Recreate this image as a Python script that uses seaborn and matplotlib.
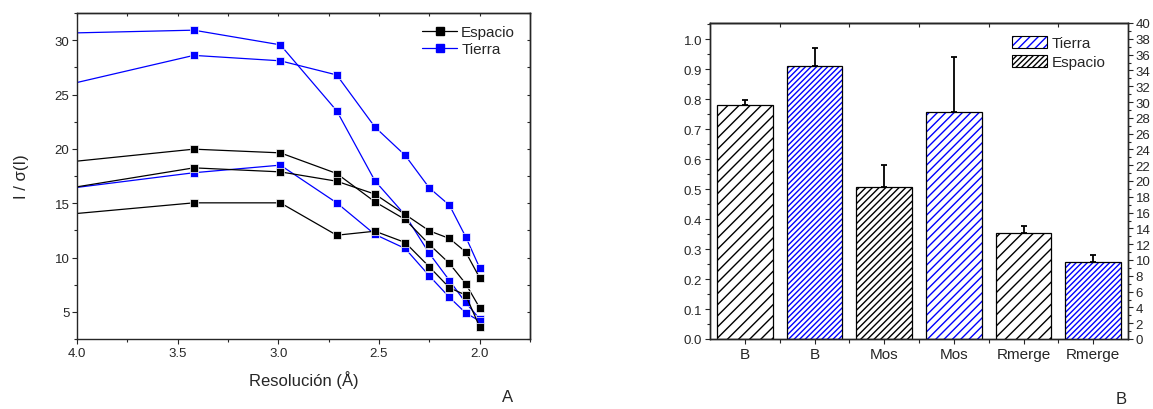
import numpy as np
import pandas as pd
import matplotlib
matplotlib.use("Agg")
import matplotlib.pyplot as plt
import matplotlib.colors as mcolors
from matplotlib.lines import Line2D
from matplotlib.patches import Patch
from matplotlib.ticker import MultipleLocator, FixedLocator, FormatStrFormatter
import seaborn as sns

# ---------------- data ----------------
# Resolution shells (high-resolution limit of each shell, in Å)
shells = [4.31, 3.42, 2.99, 2.71, 2.52, 2.37, 2.25, 2.15, 2.07, 2.00]

# I/sigma(I) per shell, three crystals per growth condition
tierra_1 = [30.54, 30.92, 29.57, 23.50, 17.05, 13.90, 10.37, 7.88, 5.86, 4.35]
tierra_2 = [24.77, 28.60, 28.10, 26.80, 22.00, 19.40, 16.40, 14.81, 11.93, 9.05]
tierra_3 = [15.73, 17.80, 18.50, 15.03, 12.12, 10.83, 8.31, 6.33, 4.91, 4.15]
espacio_1 = [18.28, 19.97, 19.63, 17.73, 15.12, 13.50, 11.20, 9.45, 7.60, 5.37]
espacio_2 = [15.57, 18.25, 17.88, 17.02, 15.83, 13.96, 12.45, 11.75, 10.52, 8.13]
espacio_3 = [13.53, 15.03, 15.03, 12.05, 12.42, 11.38, 9.14, 7.21, 6.55, 3.62]

# Refinement / scaling parameters (B and Mos on the left scale, Rmerge in % on the right)
bar_labels = ["B", "B", "Mos", "Mos", "Rmerge", "Rmerge"]
bar_groups = ["Espacio", "Tierra", "Espacio", "Tierra", "Espacio", "Tierra"]
bar_values = [0.7815, 0.912, 0.508, 0.759, 13.4, 9.8]
bar_errors = [0.018, 0.059, 0.074, 0.184, 0.9, 0.83]
right_axis_params = ["Rmerge"]

# ---------------- style ----------------
sns.set_style("ticks")
plt.rcParams["font.family"] = ["Liberation Sans", "DejaVu Sans"]
plt.rcParams["hatch.linewidth"] = 1.0
plt.rcParams["axes.linewidth"] = 1.0

BLUE = "#0000ff"
BLACK = "#000000"
palette = {"Tierra": BLUE, "Espacio": BLACK}
hatch_color = {"Tierra": BLUE, "Espacio": BLACK}
# hatch density per bar (parameter, group)
hatch_style = {("B", "Espacio"): "///", ("B", "Tierra"): "//////",
               ("Mos", "Espacio"): "/////", ("Mos", "Tierra"): "////",
               ("Rmerge", "Espacio"): "///", ("Rmerge", "Tierra"): "//////"}

fig = plt.figure(figsize=(11.53, 4.10), dpi=100)

# ================= panel A: I/sigma(I) vs resolution =================
ax1 = fig.add_axes([77 / 1153, 1 - 340 / 410, 453 / 1153, 326 / 410])

rows = []
for cond, series in [("Tierra", [tierra_1, tierra_2, tierra_3]),
                     ("Espacio", [espacio_1, espacio_2, espacio_3])]:
    for k, vals in enumerate(series):
        for r, v in zip(shells, vals):
            rows.append({"resolucion": r, "i_sigma": v, "condicion": cond,
                         "cristal": f"{cond}{k}"})
lines_df = pd.DataFrame(rows)

sns.lineplot(data=lines_df, x="resolucion", y="i_sigma", hue="condicion",
             hue_order=["Tierra", "Espacio"], units="cristal", estimator=None,
             sort=False, palette=palette, marker="s", markersize=5.5,
             mew=0.5, linewidth=0.9, legend=False, ax=ax1)

ax1.set_xlim(4.0, 1.75)
ax1.set_ylim(2.5, 32.5)
ax1.xaxis.set_major_locator(MultipleLocator(0.5))
ax1.xaxis.set_minor_locator(MultipleLocator(0.25))
ax1.yaxis.set_major_locator(FixedLocator([5, 10, 15, 20, 25, 30]))
ax1.yaxis.set_minor_locator(MultipleLocator(2.5))
ax1.xaxis.set_major_formatter(FormatStrFormatter("%.1f"))
ax1.tick_params(which="major", direction="out", length=3.5, width=0.8,
                labelsize=9.5, pad=2)
ax1.tick_params(which="minor", direction="out", length=2, width=0.8)

# mirrored inward ticks on the top and right edges
top1 = ax1.secondary_xaxis("top")
top1.xaxis.set_major_locator(MultipleLocator(0.25))
top1.tick_params(direction="in", length=2.5, width=0.8, labeltop=False)
right1 = ax1.secondary_yaxis("right")
right1.yaxis.set_major_locator(MultipleLocator(2.5))
right1.tick_params(direction="in", length=2.5, width=0.8, labelright=False)

ax1.set_xlabel("Resolución (Å)", fontsize=12)
ax1.set_ylabel("I / σ(I)", fontsize=12)
ax1.xaxis.set_label_coords(0.5, -0.095)
ax1.yaxis.set_label_coords(-0.105, 0.5)

line_handles = [Line2D([], [], color=BLACK, marker="s", markersize=5.5, lw=0.9),
                Line2D([], [], color=BLUE, marker="s", markersize=5.5, lw=0.9)]
ax1.legend(line_handles, ["Espacio", "Tierra"], loc="upper left",
           bbox_to_anchor=(0.762, 0.962), frameon=False, fontsize=11,
           handlelength=2.3, handletextpad=0.25, labelspacing=0.2,
           borderpad=0, borderaxespad=0)

fig.text(508 / 1153, 1 - 398 / 410, "A", fontsize=12, ha="center", va="center")

# ================= panel B: bar chart =================
ax2 = fig.add_axes([710 / 1153, 1 - 340 / 410, 418 / 1153, 316 / 410])
ax3 = ax2.twinx()

bars_df = pd.DataFrame({"param": bar_labels, "grupo": bar_groups,
                        "valor": bar_values, "err": bar_errors})
bars_df["slot"] = bars_df["param"] + " · " + bars_df["grupo"]
slot_order = list(bars_df["slot"])
left_df = bars_df[~bars_df["param"].isin(right_axis_params)]
right_df = bars_df[bars_df["param"].isin(right_axis_params)]

for ax, sub in ((ax2, left_df), (ax3, right_df)):
    sns.barplot(data=sub, x="slot", y="valor", order=slot_order, ax=ax,
                color="white", edgecolor=BLACK, linewidth=0.9, width=0.8,
                errorbar=None, saturation=1)
    for patch, (_, row) in zip(ax.patches, sub.iterrows()):
        patch.set_hatch(hatch_style[(row["param"], row["grupo"])])
        patch._hatch_color = mcolors.to_rgba(hatch_color[row["grupo"]])
        cx = patch.get_x() + patch.get_width() / 2
        ax.errorbar([cx], [row["valor"]], yerr=[[0], [row["err"]]], fmt="none",
                    ecolor=BLACK, elinewidth=1.3, capsize=2.5, capthick=1.3)
    ax.set_xlabel("")
    ax.set_ylabel("")

ax2.set_xlim(-0.5, len(slot_order) - 0.5)
ax2.set_ylim(0, 1.055)
ax3.set_ylim(0, 40)
ax2.set_xticks(range(len(slot_order)))
ax2.set_xticklabels(bar_labels, fontsize=11)
ax2.xaxis.set_minor_locator(FixedLocator(np.arange(0.5, len(slot_order) - 1, 1.0)))
ax2.yaxis.set_major_locator(MultipleLocator(0.1))
ax2.yaxis.set_minor_locator(MultipleLocator(0.05))
ax2.yaxis.set_major_formatter(FormatStrFormatter("%.1f"))
ax2.tick_params(axis="both", which="major", direction="out", length=3.5,
                width=0.8, labelsize=9.5, pad=2)
ax2.tick_params(axis="x", which="major", labelsize=11)
ax2.tick_params(axis="both", which="minor", direction="out", length=3, width=0.8)
ax2.tick_params(axis="y", which="minor", length=2)

ax3.yaxis.set_major_locator(MultipleLocator(2))
ax3.yaxis.set_minor_locator(MultipleLocator(1))
ax3.tick_params(axis="y", which="major", direction="out", length=3.5, width=0.8,
                labelsize=9.5, pad=2)
ax3.tick_params(axis="y", which="minor", direction="out", length=2, width=0.8)

top2 = ax2.secondary_xaxis("top")
top2.xaxis.set_major_locator(FixedLocator(np.arange(0.5, len(slot_order) - 1, 1.0)))
top2.tick_params(direction="in", length=3, width=0.8, labeltop=False)

for spine in ax3.spines.values():
    spine.set_linewidth(1.0)

legend_handles = [Patch(facecolor="white", edgecolor=BLACK, linewidth=0.8, hatch="////"),
                  Patch(facecolor="white", edgecolor=BLACK, linewidth=0.8, hatch="//////")]
leg = ax3.legend(legend_handles, ["Tierra", "Espacio"], loc="upper left",
                 bbox_to_anchor=(0.722, 0.96), frameon=False, fontsize=11,
                 handlelength=2.3, handleheight=0.85, handletextpad=0.3,
                 labelspacing=0.3, borderpad=0, borderaxespad=0)
for lp, grp in zip(leg.get_patches(), ["Tierra", "Espacio"]):
    lp._hatch_color = mcolors.to_rgba(hatch_color[grp])

fig.text(1121 / 1153, 1 - 400 / 410, "B", fontsize=12, ha="center", va="center")

fig.savefig("out.png", dpi=100)
